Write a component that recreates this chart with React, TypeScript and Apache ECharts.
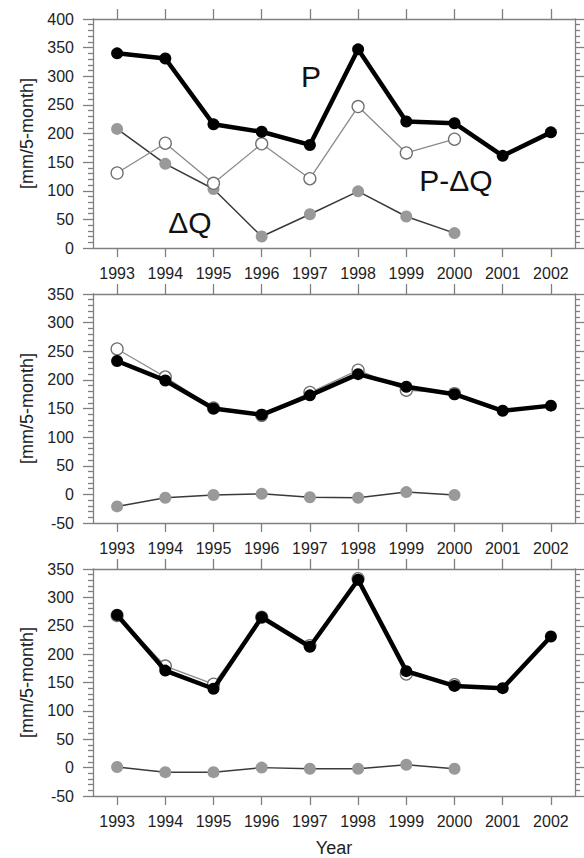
import React, { useEffect, useRef } from "react";
import * as echarts from "echarts";

const years = ["1993", "1994", "1995", "1996", "1997", "1998", "1999", "2000", "2001", "2002"];

// Top panel
const topP = [340, 331, 216, 203, 180, 347, 221, 218, 161, 202];
const topPdQ = [131, 183, 113, 182, 121, 247, 166, 190];
const topDQ = [208, 147, 103, 20, 59, 99, 55, 26];

// Middle panel
const midP = [233, 199, 150, 139, 173, 210, 188, 175, 146, 155];
const midPdQ = [254, 205, 151, 138, 178, 217, 182, 176];
const midDQ = [-21, -6, -1, 1, -5, -6, 4, -1];

// Bottom panel
const botP = [269, 171, 139, 265, 213, 331, 170, 144, 140, 231];
const botPdQ = [268, 179, 147, 265, 215, 333, 165, 146];
const botDQ = [1, -8, -8, 0, -2, -2, 5, -2];

const yRanges = [
  [0, 400],
  [-50, 350],
  [-50, 350],
];

const panels = [
  { P: topP, PdQ: topPdQ, DQ: topDQ },
  { P: midP, PdQ: midPdQ, DQ: midDQ },
  { P: botP, PdQ: botPdQ, DQ: botDQ },
];

const AXIS_COLOR = "#808080";
const AXIS_W = 1.3;
const LABEL_COLOR = "#1e1e1e";
const TICK_FONT = "'Liberation Sans', Arial, sans-serif";
const TITLE_FONT = "'Liberation Sans', Arial, sans-serif";

export default function App() {
  const ref = useRef<HTMLDivElement>(null);

  useEffect(() => {
    if (!ref.current) return;
    const chart = echarts.init(ref.current, undefined, { renderer: "svg" });

    const gridTops = [19, 294, 569];
    const grid = gridTops.map((t) => ({ left: 93, top: t, width: 482, height: 229, containLabel: false }));

    const lineStyle = { color: AXIS_COLOR, width: AXIS_W };
    const xAxis: any[] = [];
    const yAxis: any[] = [];
    const series: any[] = [];

    panels.forEach((p, i) => {
      xAxis.push({
        type: "category",
        gridIndex: i,
        data: years,
        position: "bottom",
        boundaryGap: true,
        axisLine: { show: true, onZero: false, lineStyle },
        axisTick: { show: true, alignWithLabel: true, interval: 0, length: 9, lineStyle },
        axisLabel: { interval: 0, margin: 17, fontSize: 16, fontFamily: TICK_FONT, color: LABEL_COLOR },
        splitLine: { show: false },
        name: i === 2 ? "Year" : "",
        nameLocation: "middle",
        nameGap: 43,
        nameTextStyle: { fontSize: 18, fontFamily: TITLE_FONT, color: LABEL_COLOR },
      });
      xAxis.push({
        type: "category",
        gridIndex: i,
        data: years,
        position: "top",
        boundaryGap: true,
        axisLine: { show: true, onZero: false, lineStyle },
        axisTick: { show: true, alignWithLabel: true, interval: 0, length: 10, lineStyle },
        axisLabel: { show: false },
        splitLine: { show: false },
      });
      const [mn, mx] = yRanges[i];
      yAxis.push({
        type: "value",
        gridIndex: i,
        min: mn,
        max: mx,
        interval: 50,
        position: "left",
        axisLine: { show: true, onZero: false, lineStyle },
        axisTick: { show: true, length: 10, lineStyle },
        minorTick: { show: true, splitNumber: 5, length: 5, lineStyle },
        axisLabel: { margin: 19, fontSize: 16, fontFamily: TICK_FONT, color: LABEL_COLOR },
        splitLine: { show: false },
        minorSplitLine: { show: false },
        name: "[mm/5-month]",
        nameLocation: "middle",
        nameGap: 57,
        nameTextStyle: { fontSize: 18, fontFamily: TITLE_FONT, color: LABEL_COLOR },
      });
      yAxis.push({
        type: "value",
        gridIndex: i,
        min: mn,
        max: mx,
        interval: 50,
        position: "right",
        axisLine: { show: true, onZero: false, lineStyle },
        axisTick: { show: true, length: 10, lineStyle },
        minorTick: { show: true, splitNumber: 5, length: 5, lineStyle },
        axisLabel: { show: false },
        splitLine: { show: false },
        minorSplitLine: { show: false },
      });

      const xi = i * 2;
      const yi = i * 2;
      series.push({
        name: "ΔQ",
        type: "line",
        xAxisIndex: xi,
        yAxisIndex: yi,
        data: p.DQ,
        symbol: "circle",
        symbolSize: 12,
        showSymbol: true,
        showAllSymbol: true,
        lineStyle: { color: "#3a3a3a", width: 1.5 },
        itemStyle: { color: "#999999", borderWidth: 0 },
        z: 2,
      });
      series.push({
        name: "P-ΔQ",
        type: "line",
        xAxisIndex: xi,
        yAxisIndex: yi,
        data: p.PdQ,
        symbol: "circle",
        symbolSize: 12,
        showSymbol: true,
        showAllSymbol: true,
        lineStyle: { color: "#8a8a8a", width: 1.3 },
        itemStyle: { color: "#ffffff", borderColor: "#6f6f6f", borderWidth: 1.3 },
        z: 3,
      });
      series.push({
        name: "P",
        type: "line",
        xAxisIndex: xi,
        yAxisIndex: yi,
        data: p.P,
        symbol: "circle",
        symbolSize: 12,
        showSymbol: true,
        showAllSymbol: true,
        lineStyle: { color: "#000000", width: 4.5 },
        itemStyle: { color: "#000000", borderWidth: 0 },
        z: 4,
      });
    });

    const annot = (text: string, x: number, y: number) => ({
      type: "text",
      x,
      y,
      z: 10,
      style: {
        text,
        fill: "#111111",
        fontSize: 30,
        fontFamily: TITLE_FONT,
        align: "center",
        verticalAlign: "middle",
      },
    });

    chart.setOption({
      animation: false,
      backgroundColor: "#ffffff",
      grid,
      xAxis,
      yAxis,
      series,
      graphic: [annot("P", 311, 76), annot("P-ΔQ", 456, 180), annot("ΔQ", 190, 222)],
    });

    return () => chart.dispose();
  }, []);

  return (
    <div
      ref={ref}
      style={{ position: "absolute", left: 0, top: 0, width: 584, height: 858 }}
    />
  );
}
